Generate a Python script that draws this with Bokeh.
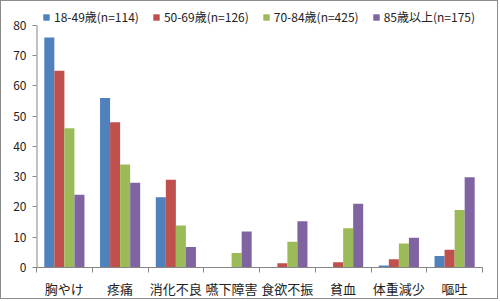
from bokeh.plotting import figure
from bokeh.models import Range1d, FixedTicker, Legend, LegendItem, ColumnDataSource
from bokeh.embed import file_html
from bokeh.resources import INLINE

categories = ["胸やけ", "疼痛", "消化不良", "嚥下障害", "食欲不振", "貧血", "体重減少", "嘔吐"]
series_names = ["18-49歳(n=114)", "50-69歳(n=126)", "70-84歳(n=425)", "85歳以上(n=175)"]
s1849 = [76, 56, 23.2, 0, 0, 0, 0.7, 3.8]
s5069 = [65, 48, 29, 0, 1.4, 1.7, 2.7, 5.9]
s7084 = [46, 34, 13.9, 4.8, 8.5, 13, 7.9, 19]
s85 = [24, 28, 6.8, 11.9, 15.3, 21.1, 9.8, 29.8]
colors = ["#4F81BD", "#C0504D", "#9BBB59", "#8064A2"]
y_ticks = [0, 10, 20, 30, 40, 50, 60, 70, 80]

FONT = "Noto Sans CJK JP"

# frame spans from the canvas top; value 80 sits 24px below it (268px frame height)
y_top = y_ticks[-1] * 268 / 244

p = figure(width=498, height=299, output_backend="svg", toolbar_location=None,
           x_range=Range1d(0, len(categories)), y_range=Range1d(0, y_top),
           min_border_left=35, min_border_right=17, min_border_top=0, min_border_bottom=31)
p.styles = {"border": "1px solid #8c8c8c"}
p.xgrid.visible = False
p.ygrid.visible = False
p.outline_line_color = None
p.background_fill_color = "white"
p.border_fill_color = "white"

axis_color = "#868686"

bar_w = 0.18
offsets = [-0.27, -0.09, 0.09, 0.27]
renderers = []
for vals, off, col in zip([s1849, s5069, s7084, s85], offsets, colors):
    src = ColumnDataSource(dict(x=[i + 0.5 + off for i in range(len(categories))], top=vals))
    r = p.vbar(x="x", top="top", width=bar_w, bottom=0, source=src, fill_color=col, line_color=None)
    renderers.append(r)

# y axis line only from 0 to 80
p.segment(x0=[0], y0=[y_ticks[0]], x1=[0], y1=[y_ticks[-1]], line_color=axis_color, line_width=2)

# y axis
p.yaxis.ticker = FixedTicker(ticks=y_ticks)
p.yaxis.axis_line_color = None
p.yaxis.major_tick_line_color = axis_color
p.yaxis.major_tick_out = 4
p.yaxis.major_tick_in = 0
p.yaxis.minor_tick_line_color = None
p.yaxis.major_label_text_font = FONT
p.yaxis.major_label_text_font_size = "12px"
p.yaxis.major_label_text_color = "#222222"
p.yaxis.major_label_standoff = 6

# x axis
p.xaxis.ticker = FixedTicker(ticks=[i + 0.5 for i in range(len(categories))],
                             minor_ticks=list(range(len(categories) + 1)))
p.xaxis.major_label_overrides = {i + 0.5: c for i, c in enumerate(categories)}
p.xaxis.axis_line_color = axis_color
p.xaxis.major_tick_line_color = None
p.xaxis.minor_tick_line_color = axis_color
p.xaxis.minor_tick_out = 5
p.xaxis.minor_tick_in = 0
p.xaxis.major_label_text_font = FONT
p.xaxis.major_label_text_font_size = "13px"
p.xaxis.major_label_text_color = "#222222"
p.xaxis.major_label_standoff = 5

legend = Legend(items=[LegendItem(label=n, renderers=[r]) for n, r in zip(series_names, renderers)],
                orientation="horizontal", location=(6, 242), background_fill_alpha=0,
                border_line_color=None, label_text_font=FONT, label_text_font_size="12px",
                label_text_color="#222222", glyph_width=8, glyph_height=8, spacing=13,
                label_standoff=4, padding=2, margin=0, label_height=16)
p.add_layout(legend, "center")

open("out.html", "w").write(file_html(p, INLINE))
